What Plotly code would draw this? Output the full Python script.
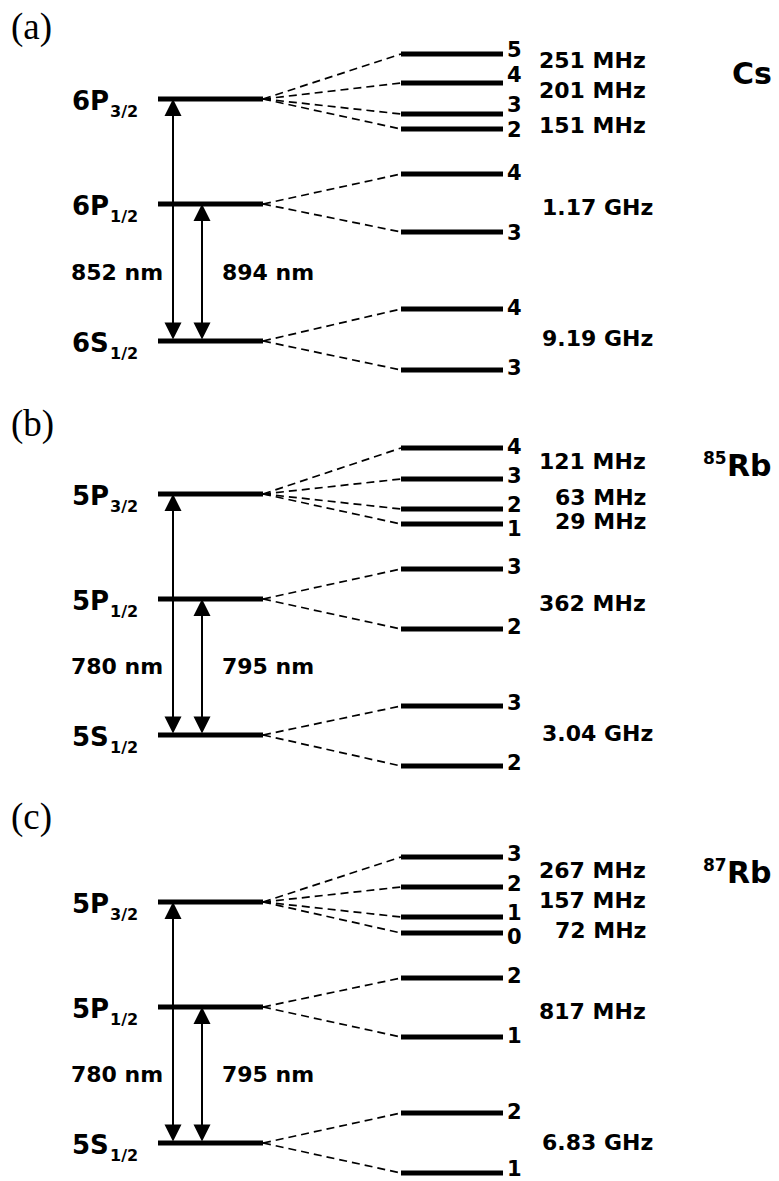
import plotly.graph_objects as go

# ---------------------------------------------------------------------------
# Level schemes. Heights are schematic diagram units above each ground state
# (not to scale); groups are listed ground state, P1/2, P3/2, bottom to top.
# ---------------------------------------------------------------------------

# (a) caesium
CS_FINE_NAME = ["6S", "6P", "6P"]
CS_FINE_J = ["1/2", "1/2", "3/2"]
CS_FINE_E = [0, 137, 242]
CS_HF_E = [[-29, 32], [109, 167], [212, 227, 258, 287]]
CS_HF_F = [["3", "4"], ["3", "4"], ["2", "3", "4", "5"]]
CS_SPLIT = [["9.19 GHz"], ["1.17 GHz"], ["151 MHz", "201 MHz", "251 MHz"]]
CS_LINES = ["852 nm", "894 nm"]

# (b) rubidium-85
RB85_FINE_NAME = ["5S", "5P", "5P"]
RB85_FINE_J = ["1/2", "1/2", "3/2"]
RB85_FINE_E = [0, 136, 241]
RB85_HF_E = [[-31, 29], [106, 166], [211, 226, 256, 287]]
RB85_HF_F = [["2", "3"], ["2", "3"], ["1", "2", "3", "4"]]
RB85_SPLIT = [["3.04 GHz"], ["362 MHz"], ["29 MHz", "63 MHz", "121 MHz"]]
RB85_LINES = ["780 nm", "795 nm"]

# (c) rubidium-87
RB87_FINE_NAME = ["5S", "5P", "5P"]
RB87_FINE_J = ["1/2", "1/2", "3/2"]
RB87_FINE_E = [0, 136, 241]
RB87_HF_E = [[-30, 30], [106, 165], [210, 226, 256, 286]]
RB87_HF_F = [["1", "2"], ["1", "2"], ["0", "1", "2", "3"]]
RB87_SPLIT = [["6.83 GHz"], ["817 MHz"], ["72 MHz", "157 MHz", "267 MHz"]]
RB87_LINES = ["780 nm", "795 nm"]

ATOM_SYMBOL = ["Cs", "Rb", "Rb"]
ATOM_MASS = ["", "85", "87"]
PANEL_TAG = ["(a)", "(b)", "(c)"]

# ---------------------------------------------------------------------------
# Layout (canvas units = pixels, y grows downward)
# ---------------------------------------------------------------------------
W, H = 779, 1181
PANEL_BASE = [341, 735, 1143]          # canvas y of each ground state
TAG_Y = [27, 424, 817]
ATOM_Y = [73, 465, 872]
MASS_Y = [0, 458, 865]
FINE_X0, FINE_X1 = 158, 263
HF_X0, HF_X1 = 401, 503
D2_X, D1_X = 173, 202
F_LABEL_X = 507
F_NUDGE = [
    [[-2, -1], [1, -1], [1, -9, -8, -4]],
    [[-3, -3], [-2, -2], [5, -4, -3, -1]],
    [[-4, -1], [-1, -2], [4, -4, -3, -3]],
]
SPLIT_NUDGE = [
    [[-1], [4], [4, -8, -8]],
    [[-3], [4], [5, 3, -2]],
    [[-1], [4], [5, -2, -2]],
]

BOLD = "DejaVu Sans"
INK = "black"

panels = [
    (CS_FINE_NAME, CS_FINE_J, CS_FINE_E, CS_HF_E, CS_HF_F, CS_SPLIT, CS_LINES),
    (RB85_FINE_NAME, RB85_FINE_J, RB85_FINE_E, RB85_HF_E, RB85_HF_F, RB85_SPLIT, RB85_LINES),
    (RB87_FINE_NAME, RB87_FINE_J, RB87_FINE_E, RB87_HF_E, RB87_HF_F, RB87_SPLIT, RB87_LINES),
]

fig = go.Figure()
annotations = []


def text(x, y, s, size, xanchor="center", family=BOLD, weight=700):
    annotations.append(dict(
        x=x, y=y, xref="x", yref="y", text=s, showarrow=False,
        xanchor=xanchor, yanchor="middle", borderpad=0, borderwidth=0,
        font=dict(family=family, size=size, color=INK, weight=weight),
    ))


level_x, level_y = [], []
dash_x, dash_y = [], []

for p, (names, js, fine_e, hf_e, hf_f, split, lines) in enumerate(panels):
    base = PANEL_BASE[p]
    fine_y = [base - e for e in fine_e]

    # fine-structure levels and their labels
    for k, fy in enumerate(fine_y):
        level_x += [FINE_X0, FINE_X1, None]
        level_y += [fy, fy, None]
        text(FINE_X0 - 49, fy + 1.5, names[k], 26, xanchor="right")
        text(FINE_X0 - 48, fy + 12.5, js[k], 16, xanchor="left")

    # hyperfine levels, connectors, F labels and splittings
    for g, group in enumerate(hf_e):
        hys = [base - e for e in group]
        for i, hy in enumerate(hys):
            level_x += [HF_X0, HF_X1, None]
            level_y += [hy, hy, None]
            dash_x += [FINE_X1, HF_X0, None]
            dash_y += [fine_y[g], hy, None]
            text(F_LABEL_X, hy + F_NUDGE[p][g][i], hf_f[g][i], 21, xanchor="left")
        for i, lab in enumerate(split[g]):
            mid = (hys[i] + hys[i + 1]) / 2 + SPLIT_NUDGE[p][g][i]
            right = 653 if "GHz" in lab else 646
            text(right, mid, lab, 22, xanchor="right")

    # optical transitions (D2: ground -> P3/2, D1: ground -> P1/2)
    for ax_x, top in ((D2_X, fine_y[2]), (D1_X, fine_y[1])):
        annotations.append(dict(
            x=ax_x, y=top, ax=ax_x, ay=fine_y[0],
            xref="x", yref="y", axref="x", ayref="y",
            text="", showarrow=True, arrowside="end+start",
            arrowhead=2, startarrowhead=2, arrowsize=1.7, startarrowsize=1.7,
            arrowwidth=2, arrowcolor=INK, standoff=0, startstandoff=0,
        ))
    text(116.5, base - 68.5, lines[0], 22)
    text(267.5, base - 68.5, lines[1], 22)

    # panel tag and atom symbol
    text(11, TAG_Y[p], PANEL_TAG[p], 37, xanchor="left",
         family="Liberation Serif", weight=400)
    text(772, ATOM_Y[p], ATOM_SYMBOL[p], 30, xanchor="right")
    if ATOM_MASS[p]:
        text(727, MASS_Y[p], ATOM_MASS[p], 17, xanchor="right")

fig.add_trace(go.Scatter(
    x=dash_x, y=dash_y, mode="lines", hoverinfo="skip",
    line=dict(color=INK, width=1.7, dash="8px,5px"),
))
fig.add_trace(go.Scatter(
    x=level_x, y=level_y, mode="lines", hoverinfo="skip",
    line=dict(color=INK, width=5),
))

fig.update_layout(
    width=W, height=H,
    margin=dict(l=0, r=0, t=0, b=0),
    paper_bgcolor="white", plot_bgcolor="white",
    showlegend=False,
    annotations=annotations,
    xaxis=dict(range=[0, W], visible=False, fixedrange=True),
    yaxis=dict(range=[H, 0], visible=False, fixedrange=True),
)

fig.write_html("out.html")
